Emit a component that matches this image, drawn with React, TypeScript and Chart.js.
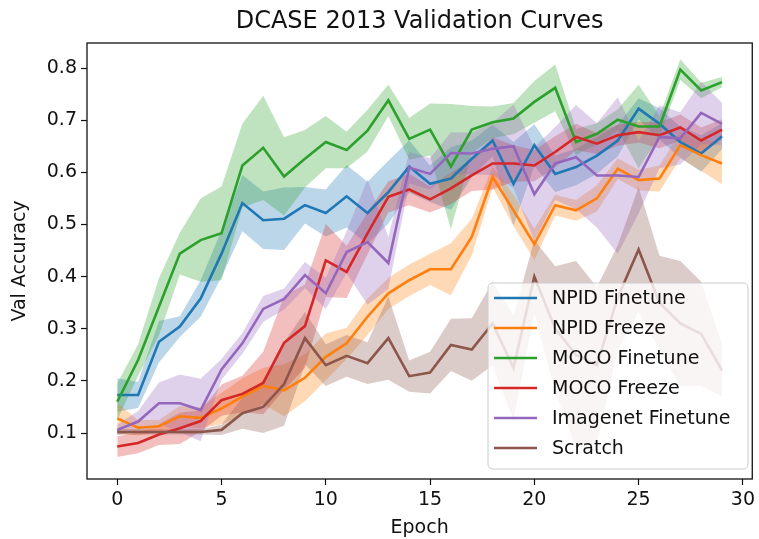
import React, { useEffect, useRef } from "react";
import { Chart, registerables } from "chart.js";

Chart.register(...registerables);

const epochs = [0, 1, 2, 3, 4, 5, 6, 7, 8, 9, 10, 11, 12, 13, 14, 15, 16, 17, 18, 19, 20, 21, 22, 23, 24, 25, 26, 27, 28, 29];
const xTicks = [0, 5, 10, 15, 20, 25, 30];
const yTicks = [0.1, 0.2, 0.3, 0.4, 0.5, 0.6, 0.7, 0.8];

const seriesNames = ["NPID Finetune", "NPID Freeze", "MOCO Finetune", "MOCO Freeze", "Imagenet Finetune", "Scratch"];
const seriesColors = ["#1f77b4", "#ff7f0e", "#2ca02c", "#d62728", "#9467bd", "#8c564b"];

const npidFinetune = [0.173, 0.173, 0.275, 0.304, 0.358, 0.444, 0.541, 0.508, 0.511, 0.537, 0.522, 0.554, 0.522, 0.562, 0.611, 0.578, 0.588, 0.626, 0.661, 0.578, 0.652, 0.597, 0.61, 0.632, 0.661, 0.722, 0.693, 0.658, 0.636, 0.669];
const npidFinetuneSpread = [0.032, 0.025, 0.04, 0.02, 0.035, 0.045, 0.054, 0.055, 0.06, 0.035, 0.045, 0.06, 0.06, 0.06, 0.05, 0.035, 0.06, 0.035, 0.03, 0.08, 0.04, 0.035, 0.035, 0.035, 0.03, 0.02, 0.03, 0.03, 0.035, 0.025];

const npidFreeze = [0.128, 0.11, 0.113, 0.132, 0.129, 0.147, 0.17, 0.19, 0.182, 0.206, 0.246, 0.272, 0.323, 0.368, 0.393, 0.414, 0.414, 0.476, 0.591, 0.527, 0.462, 0.537, 0.527, 0.55, 0.607, 0.585, 0.588, 0.652, 0.633, 0.617];
const npidFreezeSpread = [0.03, 0.015, 0.012, 0.02, 0.02, 0.03, 0.035, 0.035, 0.05, 0.045, 0.045, 0.03, 0.035, 0.03, 0.03, 0.03, 0.05, 0.035, 0.02, 0.03, 0.03, 0.02, 0.02, 0.025, 0.02, 0.02, 0.025, 0.025, 0.03, 0.04];

const mocoFinetune = [0.16, 0.24, 0.342, 0.444, 0.47, 0.483, 0.613, 0.647, 0.592, 0.626, 0.658, 0.643, 0.68, 0.738, 0.664, 0.682, 0.611, 0.682, 0.696, 0.703, 0.735, 0.762, 0.658, 0.674, 0.701, 0.688, 0.688, 0.797, 0.757, 0.773];
const mocoFinetuneSpread = [0.035, 0.03, 0.055, 0.04, 0.08, 0.09, 0.08, 0.1, 0.075, 0.055, 0.05, 0.035, 0.04, 0.03, 0.04, 0.05, 0.12, 0.045, 0.03, 0.03, 0.04, 0.045, 0.025, 0.02, 0.02, 0.08, 0.02, 0.02, 0.015, 0.01];

const mocoFreeze = [0.074, 0.081, 0.097, 0.109, 0.123, 0.163, 0.175, 0.196, 0.273, 0.305, 0.431, 0.409, 0.483, 0.553, 0.567, 0.548, 0.569, 0.594, 0.617, 0.617, 0.613, 0.639, 0.668, 0.655, 0.671, 0.677, 0.671, 0.686, 0.661, 0.682];
const mocoFreezeSpread = [0.02, 0.02, 0.02, 0.03, 0.02, 0.03, 0.035, 0.06, 0.09, 0.08, 0.07, 0.05, 0.04, 0.03, 0.03, 0.025, 0.03, 0.03, 0.05, 0.035, 0.03, 0.03, 0.025, 0.02, 0.02, 0.02, 0.025, 0.025, 0.025, 0.02];

const imagenetFinetune = [0.106, 0.122, 0.157, 0.157, 0.144, 0.222, 0.272, 0.338, 0.357, 0.403, 0.368, 0.447, 0.466, 0.426, 0.609, 0.597, 0.637, 0.636, 0.645, 0.65, 0.558, 0.617, 0.629, 0.594, 0.594, 0.591, 0.668, 0.665, 0.714, 0.693];
const imagenetFinetuneSpread = [0.01, 0.02, 0.04, 0.055, 0.06, 0.02, 0.02, 0.025, 0.02, 0.025, 0.03, 0.04, 0.12, 0.05, 0.03, 0.03, 0.04, 0.04, 0.05, 0.08, 0.09, 0.07, 0.1, 0.1, 0.15, 0.07, 0.06, 0.05, 0.06, 0.04];

const scratch = [0.102, 0.102, 0.102, 0.102, 0.102, 0.106, 0.138, 0.15, 0.194, 0.282, 0.23, 0.248, 0.234, 0.282, 0.209, 0.216, 0.269, 0.26, 0.31, 0.225, 0.4, 0.3, 0.25, 0.23, 0.36, 0.452, 0.35, 0.31, 0.29, 0.22];
const scratchSpread = [0.005, 0.005, 0.005, 0.005, 0.005, 0.01, 0.03, 0.05, 0.08, 0.05, 0.04, 0.04, 0.04, 0.08, 0.03, 0.04, 0.05, 0.06, 0.08, 0.1, 0.07, 0.12, 0.18, 0.15, 0.1, 0.12, 0.09, 0.12, 0.1, 0.05];

const seriesMeans = [npidFinetune, npidFreeze, mocoFinetune, mocoFreeze, imagenetFinetune, scratch];
const seriesSpreads = [npidFinetuneSpread, npidFreezeSpread, mocoFinetuneSpread, mocoFreezeSpread, imagenetFinetuneSpread, scratchSpread];

const titleText = "DCASE 2013 Validation Curves";
const xTitle = "Epoch";
const yTitle = "Val Accuracy";

const FONT = "'DejaVu Sans', sans-serif";

function hexToRgba(hex: string, a: number) {
  const n = parseInt(hex.slice(1), 16);
  return `rgba(${(n >> 16) & 255}, ${(n >> 8) & 255}, ${n & 255}, ${a})`;
}

const decorPlugin = {
  id: "decor",
  afterDraw(chart: any) {
    const ctx = chart.ctx;
    const a = chart.chartArea;
    ctx.save();
    ctx.strokeStyle = "#111";
    ctx.lineWidth = 1.3;
    ctx.strokeRect(a.left, a.top, a.right - a.left, a.bottom - a.top);
    const cx = (a.left + a.right) / 2;
    ctx.fillStyle = "#111";
    ctx.textAlign = "center";
    ctx.textBaseline = "middle";
    ctx.font = `24px ${FONT}`;
    ctx.fillText(titleText, cx, 22);
    ctx.font = `19px ${FONT}`;
    ctx.fillText(xTitle, cx, 528);
    ctx.save();
    ctx.translate(20, (a.top + a.bottom) / 2);
    ctx.rotate(-Math.PI / 2);
    ctx.fillText(yTitle, 0, 0);
    ctx.restore();
    const lx = 488, ly = 283, lw = 260, lh = 186;
    ctx.beginPath();
    const r = 5;
    ctx.moveTo(lx + r, ly);
    ctx.lineTo(lx + lw - r, ly);
    ctx.quadraticCurveTo(lx + lw, ly, lx + lw, ly + r);
    ctx.lineTo(lx + lw, ly + lh - r);
    ctx.quadraticCurveTo(lx + lw, ly + lh, lx + lw - r, ly + lh);
    ctx.lineTo(lx + r, ly + lh);
    ctx.quadraticCurveTo(lx, ly + lh, lx, ly + lh - r);
    ctx.lineTo(lx, ly + r);
    ctx.quadraticCurveTo(lx, ly, lx + r, ly);
    ctx.closePath();
    ctx.fillStyle = "rgba(255,255,255,0.8)";
    ctx.fill();
    ctx.strokeStyle = "#cccccc";
    ctx.lineWidth = 1;
    ctx.stroke();
    ctx.textAlign = "left";
    ctx.font = `19px ${FONT}`;
    seriesNames.forEach((name, i) => {
      const y = 298 + i * 30;
      ctx.strokeStyle = seriesColors[i];
      ctx.lineWidth = 2.6;
      ctx.beginPath();
      ctx.moveTo(494, y);
      ctx.lineTo(537, y);
      ctx.stroke();
      ctx.fillStyle = "#111";
      ctx.fillText(name, 552, y + 1);
    });
    ctx.restore();
  },
};

export default function App() {
  const ref = useRef<HTMLCanvasElement | null>(null);
  useEffect(() => {
    if (!ref.current) return;
    const datasets: any[] = [];
    seriesMeans.forEach((mean, i) => {
      const spread = seriesSpreads[i];
      const upperIdx = datasets.length;
      datasets.push({
        label: seriesNames[i] + " upper",
        data: epochs.map((e, k) => ({ x: e, y: mean[k] + spread[k] })),
        borderWidth: 0,
        pointRadius: 0,
        fill: false,
        order: 200 - i,
      });
      datasets.push({
        label: seriesNames[i] + " lower",
        data: epochs.map((e, k) => ({ x: e, y: mean[k] - spread[k] })),
        borderWidth: 0,
        pointRadius: 0,
        backgroundColor: hexToRgba(seriesColors[i], 0.3),
        fill: { target: upperIdx },
        order: 200 - i,
      });
    });
    seriesMeans.forEach((mean, i) => {
      datasets.push({
        label: seriesNames[i],
        data: epochs.map((e, k) => ({ x: e, y: mean[k] })),
        borderColor: seriesColors[i],
        borderWidth: 2.6,
        pointRadius: 0,
        fill: false,
        tension: 0,
        order: 50 - i,
      });
    });
    const chart = new Chart(ref.current, {
      type: "line",
      data: { datasets },
      options: {
        responsive: false,
        animation: false,
        layout: { padding: { top: 43, right: 2, left: 0, bottom: 0 } },
        plugins: { legend: { display: false }, tooltip: { enabled: false }, title: { display: false } },
        scales: {
          x: {
            type: "linear",
            min: -1.45,
            max: 30.45,
            afterBuildTicks: (s: any) => { s.ticks = xTicks.map((v) => ({ value: v })); },
            afterFit: (s: any) => { s.height = 60; },
            grid: { display: true, drawOnChartArea: false, drawTicks: true, tickLength: 6, tickColor: "#111", tickWidth: 1.2 },
            border: { display: false },
            ticks: { padding: 4, color: "#111", font: { family: FONT, size: 19 }, maxRotation: 0, autoSkip: false },
          },
          y: {
            type: "linear",
            min: 0.0118,
            max: 0.848,
            afterBuildTicks: (s: any) => { s.ticks = yTicks.map((v) => ({ value: v })); },
            afterFit: (s: any) => { s.width = 87; },
            grid: { display: true, drawOnChartArea: false, drawTicks: true, tickLength: 6, tickColor: "#111", tickWidth: 1.2 },
            border: { display: false },
            ticks: { padding: 4, color: "#111", font: { family: FONT, size: 19 }, autoSkip: false, callback: (v: any) => Number(v).toFixed(1) },
          },
        },
      },
      plugins: [decorPlugin],
    });
    return () => chart.destroy();
  }, []);
  return (
    <div style={{ position: "absolute", left: 0, top: 0, width: 759, height: 539, background: "#fff" }}>
      <canvas ref={ref} width={759} height={539} style={{ display: "block" }} />
    </div>
  );
}
